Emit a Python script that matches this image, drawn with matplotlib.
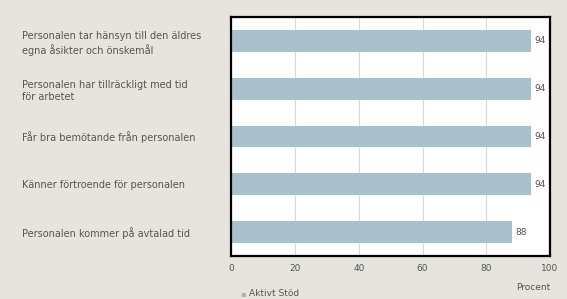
import numpy as np
import matplotlib.pyplot as plt

categories = [
    'Personalen tar hänsyn till den äldres\negna åsikter och önskemål',
    'Personalen har tillräckligt med tid\nför arbetet',
    'Får bra bemötande från personalen',
    'Känner förtroende för personalen',
    'Personalen kommer på avtalad tid',
]
values = [94, 94, 94, 94, 88]
series_name = 'Aktivt Stöd'
xticks = [0, 20, 40, 60, 80, 100]

bg = '#e6e4dd'
bar_color = '#a9c1cd'
text_color = '#555555'

fig = plt.figure(figsize=(5.67, 2.99), dpi=100, facecolor=bg)
ax = fig.add_axes([0.408, 0.144, 0.562, 0.799])

y = np.arange(len(categories))[::-1]
ax.barh(y, values, height=0.46, color=bar_color, zorder=2)
for yi, v in zip(y, values):
    ax.text(v + 1, yi, str(v), va='center', ha='left', fontsize=6.5, color=text_color)

ax.set_xlim(0, 100)
ax.set_ylim(-0.5, 4.5)
ax.set_xticks(xticks)
ax.set_yticks(y)
ax.set_yticklabels(categories, ha='left', fontsize=7, color=text_color, linespacing=1.3)
ax.tick_params(axis='y', length=0, pad=151)
ax.tick_params(axis='x', length=0, pad=6, labelsize=6.5, labelcolor=text_color)
ax.grid(axis='x', color='#d8d8d8', linewidth=0.8, zorder=0)
for s in ax.spines.values():
    s.set_linewidth(1.6)
    s.set_color('black')

fig.text(0.97, 0.037, 'Procent', ha='right', va='center', fontsize=6.5, color=text_color)
fig.text(0.424, 0.02, '\u25aa', ha='left', va='center', fontsize=6, color='#b0b0b0')
fig.text(0.44, 0.02, series_name, ha='left', va='center', fontsize=6.5, color=text_color)

fig.savefig('out.png', dpi=100, facecolor=bg)
